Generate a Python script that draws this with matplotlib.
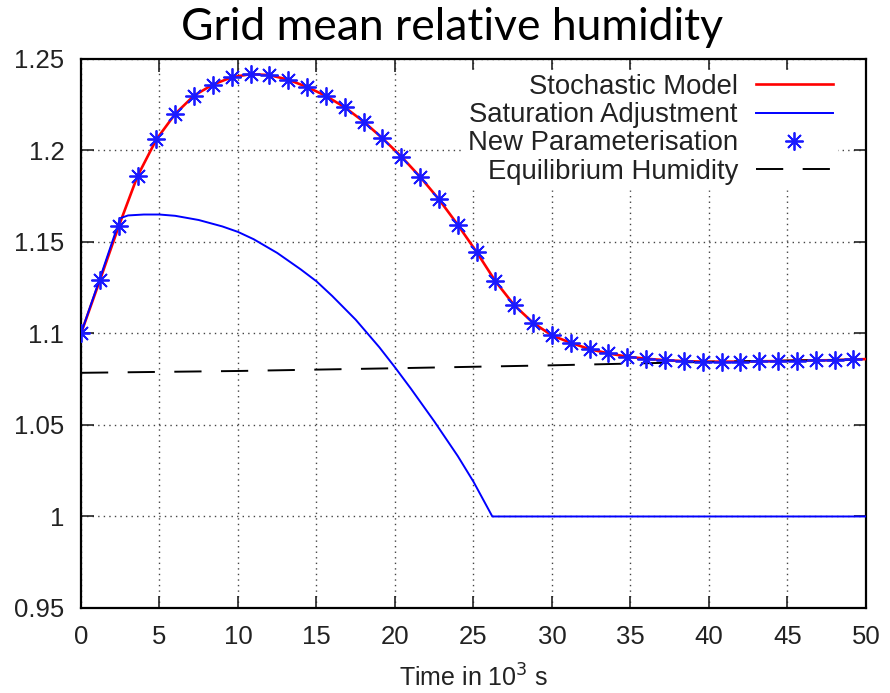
import numpy as np
import matplotlib.pyplot as plt

# datos (tiempo en 10^3 s)
t_param = np.arange(42) * 1.2
rh_param = [1.100, 1.129, 1.1585, 1.186, 1.206, 1.220, 1.230, 1.236, 1.240, 1.2417,
            1.2412, 1.2387, 1.2347, 1.2298, 1.2236, 1.2158, 1.2067, 1.1967, 1.1856, 1.1733,
            1.1594, 1.1445, 1.1285, 1.1154, 1.1058, 1.0989, 1.0949, 1.0914, 1.0891, 1.0873,
            1.0862, 1.0854, 1.0849, 1.0846, 1.0846, 1.0846, 1.0848, 1.0849, 1.0852, 1.0853,
            1.0854, 1.0858]

t_stoch = list(t_param) + [50.0]
rh_stoch = rh_param + [1.0860]

t_sat = [0, 1.2, 2.5, 3.0, 4.0, 5.0, 6.0, 7.5, 9.0, 10.0, 11.0, 12.5, 14.0, 15.0,
         16.0, 17.5, 19.0, 20.0, 21.0, 22.5, 24.0, 25.0, 26.2, 50.0]
rh_sat = [1.100, 1.130, 1.163, 1.1645, 1.165, 1.165, 1.1643, 1.1620, 1.1585, 1.1555,
          1.1515, 1.1440, 1.1350, 1.1285, 1.1205, 1.1075, 1.0925, 1.0815, 1.0700, 1.0520,
          1.0330, 1.0190, 1.000, 1.000]

t_eq = [0, 10, 20, 30, 40, 50]
rh_eq = [1.0785, 1.0795, 1.0810, 1.0826, 1.0845, 1.0858]

xticks = [0, 5, 10, 15, 20, 25, 30, 35, 40, 45, 50]
yticks = [0.95, 1.0, 1.05, 1.1, 1.15, 1.2, 1.25]
ytick_labels = ['0.95', '1', '1.05', '1.1', '1.15', '1.2', '1.25']

plt.rcParams['font.family'] = ['Liberation Sans', 'DejaVu Sans']

fig = plt.figure(figsize=(8.9, 6.93), dpi=100)
ax = fig.add_axes([0.091, 0.1227, 0.882, 0.7922])

ax.plot(t_stoch, rh_stoch, color='#ff0000', lw=1.9, label='Stochastic Model', zorder=3)
ax.plot(t_sat, rh_sat, color='#0000ff', lw=1.4, label='Saturation Adjustment', zorder=3)
ax.plot(t_param, rh_param, linestyle='none', marker=(8, 2, 0), markersize=13,
        markeredgewidth=1.3, color='#1a1aff', label='New Parameterisation', zorder=4)
ax.plot(t_eq, rh_eq, color='black', lw=1.4, dashes=(14, 10),
        label='Equilibrium Humidity', zorder=3)

ax.set_xlim(0, 50)
ax.set_ylim(0.95, 1.25)
ax.set_xticks(xticks)
ax.set_yticks(yticks)
ax.set_yticklabels(ytick_labels)
ax.tick_params(direction='in', length=9, width=1.2, labelsize=18.5,
               top=True, right=True, colors='#222222')
ax.tick_params(axis='x', pad=12)
ax.tick_params(axis='y', pad=12)
for sp in ax.spines.values():
    sp.set_linewidth(1.6)
ax.grid(True, linestyle=(0, (1, 3)), color='#444444', lw=1.0)

ax.set_xlabel('Time in 10$^3$ s', fontsize=18, color='#222222', labelpad=11)
fig.suptitle('Grid mean relative humidity', fontsize=32, family=['Lato', 'DejaVu Sans'],
             x=0.508, y=0.99, va='top')

leg = ax.legend(loc='upper right', bbox_to_anchor=(0.963, 0.98), markerfirst=False,
                fontsize=19.8, handlelength=2.8, handletextpad=0.65, labelspacing=0.08,
                borderpad=0.15, borderaxespad=0, frameon=True, fancybox=False,
                framealpha=1, edgecolor='white')
for txt in leg.get_texts():
    txt.set_color('#222222')

plt.savefig('out.png', dpi=100)
